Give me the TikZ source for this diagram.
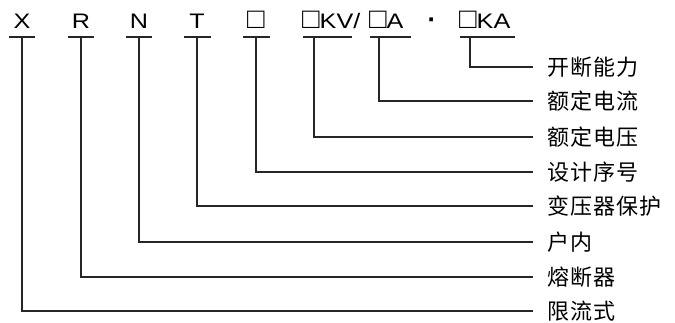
\documentclass[tikz,border=0pt]{standalone}
\usepackage{fontspec}
\setmainfont{Liberation Sans}
\newfontfamily\latfont[FakeStretch=1.2]{Liberation Sans}
\newfontfamily\sqfont{Liberation Sans}
\newfontfamily\cjkfont[LetterSpace=5]{Noto Sans CJK SC}
\newcommand\sqbox{{\sqfont\fontsize{29}{29}\selectfont □}}
\newcommand\middot{{\sqfont\bfseries\fontsize{26}{26}\selectfont ·}}
\begin{document}
\begin{tikzpicture}[x=1pt,y=-1pt,
  conn/.style={line width=1.3pt, draw=black!85},
  top/.style={font=\latfont\fontsize{21}{21}\selectfont, inner sep=0},
  lab/.style={font=\cjkfont\fontsize{22}{22}\selectfont, anchor=west, inner xsep=14pt, inner ysep=0},
  ul/.style={inner sep=0, minimum height=0pt, minimum width=#1}]
\useasboundingbox (0,0) rectangle (675,322);
% top codes
\node[top, anchor=base] (tX) at (22,28) {X};
\node[top, anchor=base] (tR) at (81,28) {R};
\node[top, anchor=base] (tN) at (139,28) {N};
\node[top, anchor=base] (tT) at (197,28) {T};
\node[top, anchor=base] (tS) at (256,28) {\sqbox};
\node[top, anchor=base west] (tKV) at (302,28) {\sqbox KV/};
\node[top, anchor=base west] (tA) at (369,28) {\sqbox A};
\node[top, anchor=base] (tD) at (432,28) {\middot};
\node[top, anchor=base west] (tKA) at (459,28) {\sqbox KA};
% underlines
\node[ul=26pt] (uX) at (22,37) {};
\node[ul=26pt] (uR) at (81,37) {};
\node[ul=26pt] (uN) at (139,37) {};
\node[ul=27pt] (uT) at (197.5,37) {};
\node[ul=27pt] (uS) at (256.5,37) {};
\node[ul=49pt] (uKV) at (327.5,37) {};
\node[ul=41pt] (uA) at (390.5,37) {};
\node[ul=55pt] (uKA) at (487.5,37) {};
\foreach \u in {uX,uR,uN,uT,uS,uKV,uA,uKA}
  \draw[conn] (\u.west) -- (\u.east);
% labels
\node[lab] (lKA) at (533,67) {开断能力};
\node[lab] (lA) at (533,101) {额定电流};
\node[lab] (lKV) at (533,137) {额定电压};
\node[lab] (lS) at (533,172) {设计序号};
\node[lab] (lT) at (533,206) {变压器保护};
\node[lab] (lN) at (533,242) {户内};
\node[lab] (lR) at (533,277) {熔断器};
\node[lab] (lX) at (533,311) {限流式};
% connectors
\draw[conn] (22,37) |- (lX.west);
\draw[conn] (81,37) |- (lR.west);
\draw[conn] (139,37) |- (lN.west);
\draw[conn] (197,37) |- (lT.west);
\draw[conn] (256,37) |- (lS.west);
\draw[conn] (314,37) |- (lKV.west);
\draw[conn] (379,37) |- (lA.west);
\draw[conn] (470,37) |- (lKA.west);
\end{tikzpicture}
\end{document}
